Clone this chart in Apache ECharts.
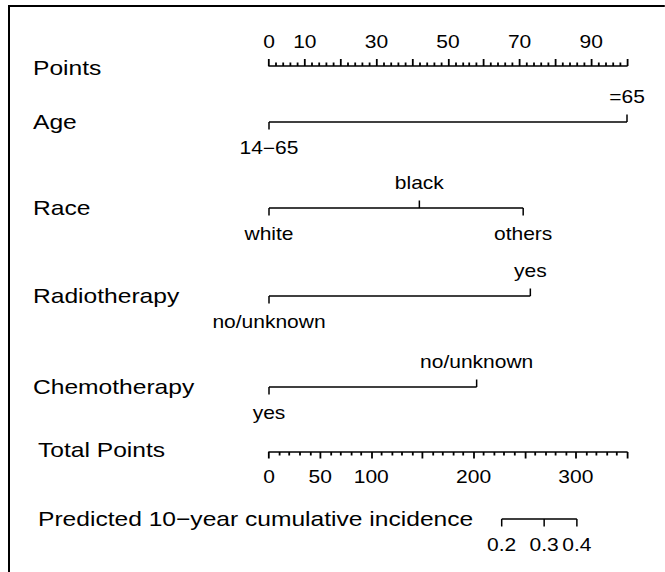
<!DOCTYPE html>
<html><head><meta charset="utf-8">
<script src="https://cdn.jsdelivr.net/npm/echarts@6/dist/echarts.min.js"></script>
<style>
html,body{margin:0;padding:0;background:#fff;overflow:hidden}
#wrap{width:665px;height:572px;overflow:hidden;position:relative;background:#fff}
#chart{width:554.1667px;height:572px;transform:scaleX(1.2);transform-origin:0 0}
</style></head>
<body><div id="wrap"><div id="chart"></div></div>
<script>
// ---------------- data ----------------
const rowNames = ['Points', 'Age', 'Race', 'Radiotherapy', 'Chemotherapy', 'Total Points', 'Predicted 10\u2212year cumulative incidence'];
const pointsLabels = [0, 10, 30, 50, 70, 90];
const ageLevels = ['14\u221265', '=65'];
const agePoints = [0, 100];
const raceLevels = ['white', 'black', 'others'];
const racePoints = [0, 42, 71];
const radioLevels = ['no/unknown', 'yes'];
const radioPoints = [0, 73];
const chemoLevels = ['yes', 'no/unknown'];
const chemoPoints = [0, 58];
const totalLabels = [0, 50, 100, 200, 300];
const probLabels = ['0.2', '0.3', '0.4'];
const probTotalPoints = [227.5, 269, 301];

// ---------------- layout / style ----------------
const S = 1.2;                       // horizontal stretch of the reference picture
const W = 665 / S;
const X0 = 269 / S, X1 = 627 / S;
const rowY = [66, 122, 208, 296, 387, 452, 519];
const labelX = [33, 33, 33, 33, 33, 38, 38].map(v => v / S);
const FONT = "'Liberation Sans', Arial, Helvetica, sans-serif";
const INK = '#000';
const LW = 1.5;
const TICK = 7.5;
const ROWFONT = 20.5, TICKFONT = 17.5;

const variableRows = [
  { levels: ageLevels, points: agePoints },
  { levels: raceLevels, points: racePoints },
  { levels: radioLevels, points: radioPoints },
  { levels: chemoLevels, points: chemoPoints }
];

const grids = [], xAxes = [], yAxes = [], series = [];
rowNames.forEach((name, i) => {
  grids.push({ left: X0, width: X1 - X0, top: i === 5 ? rowY[i] - 4 : (i === 0 ? rowY[i] : rowY[i] - 2), height: 4 });
  yAxes.push({
    gridIndex: i, type: 'category', data: [name],
    axisLine: { show: false }, axisTick: { show: false }, splitLine: { show: false },
    axisLabel: { align: 'left', margin: X0 - labelX[i], fontSize: ROWFONT, color: INK, fontFamily: FONT }
  });
});

const tickStyle = { color: INK, width: LW };
// Points axis
xAxes.push({
  gridIndex: 0, type: 'value', min: 0, max: 100, interval: 10, position: 'top',
  axisLine: { show: true, lineStyle: tickStyle },
  axisTick: { show: true, length: 7, lineStyle: tickStyle },
  minorTick: { show: true, splitNumber: 5, length: 3.5, lineStyle: tickStyle },
  splitLine: { show: false }, minorSplitLine: { show: false },
  axisLabel: { margin: 15, fontSize: TICKFONT, color: INK, fontFamily: FONT,
    formatter: v => pointsLabels.includes(v) ? String(v) : '' }
});
// variable rows
for (let i = 1; i <= 4; i++) {
  xAxes.push({ gridIndex: i, type: 'value', min: 0, max: 100, show: false });
}
// Total points axis
xAxes.push({
  gridIndex: 5, type: 'value', min: 0, max: 350, interval: 50, position: 'bottom',
  axisLine: { show: true, lineStyle: tickStyle },
  axisTick: { show: true, length: 6.5, lineStyle: tickStyle },
  minorTick: { show: true, splitNumber: 5, length: 3.5, lineStyle: tickStyle },
  splitLine: { show: false }, minorSplitLine: { show: false },
  axisLabel: { margin: 16, fontSize: TICKFONT, color: INK, fontFamily: FONT,
    formatter: v => totalLabels.includes(v) ? String(v) : '' }
});
// predicted row (positioned on the total points scale)
xAxes.push({ gridIndex: 6, type: 'value', min: 0, max: 350, show: false });

function rowSeries(axisIndex, levels, points, allDown) {
  const order = points.map((p, k) => k).sort((a, b) => points[a] - points[b]);
  const rank = [];
  order.forEach((k, r) => { rank[k] = r; });
  const sorted = order.map(k => [points[k], 0]);
  series.push({
    type: 'line', xAxisIndex: axisIndex, yAxisIndex: axisIndex, data: sorted,
    symbol: 'none', silent: true, animation: false,
    lineStyle: { color: INK, width: LW }
  });
  series.push({
    type: 'custom', xAxisIndex: axisIndex, yAxisIndex: axisIndex, silent: true, animation: false,
    data: points.map((p, k) => [p, 0, k]),
    renderItem: (params, api) => {
      const k = api.value(2);
      const pt = api.coord([api.value(0), 0]);
      const up = !allDown && (rank[k] % 2 === 1);
      return {
        type: 'group',
        children: [
          { type: 'line', shape: { x1: pt[0], y1: pt[1], x2: pt[0], y2: pt[1] + (up ? -TICK : TICK) },
            style: { stroke: INK, lineWidth: LW / S } },
          { type: 'text', x: pt[0], y: pt[1] + (up ? -25 : 26),
            style: { text: levels[k], align: 'center', verticalAlign: 'middle',
              fontSize: TICKFONT, fontFamily: FONT, fill: INK } }
        ]
      };
    }
  });
}
variableRows.forEach((r, j) => rowSeries(j + 1, r.levels, r.points, false));
rowSeries(6, probLabels, probTotalPoints, true);

const chart = echarts.init(document.getElementById('chart'), null, { renderer: 'svg' });
chart.setOption({
  animation: false,
  backgroundColor: '#fff',
  grid: grids, xAxis: xAxes, yAxis: yAxes, series: series,
  graphic: [
    { type: 'line', shape: { x1: 9 / S, y1: 6, x2: W, y2: 6 }, style: { stroke: '#000', lineWidth: 2 } },
    { type: 'line', shape: { x1: 9 / S, y1: 5, x2: 9 / S, y2: 572 }, style: { stroke: '#000', lineWidth: 2 / S } }
  ]
});
</script>
</body></html>
